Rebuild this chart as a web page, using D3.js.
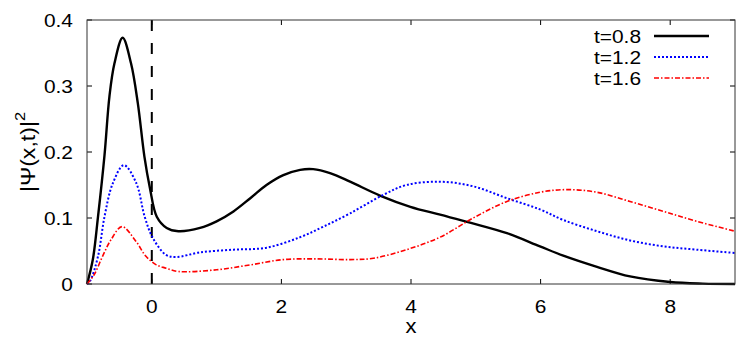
<!DOCTYPE html>
<html><head><meta charset="utf-8">
<script src="https://cdn.jsdelivr.net/npm/d3@7"></script>
<style>body{margin:0;background:#fff}svg{display:block}text{font-family:"Liberation Sans",Arial,sans-serif;fill:#000}</style>
</head><body><svg id="c" width="747" height="342"></svg>
<script>
const xTicks = [0, 2, 4, 6, 8];
const yTicks = [0, 0.1, 0.2, 0.3, 0.4];
const yTickLabels = ["0", "0.1", "0.2", "0.3", "0.4"];
const seriesNames = ["t=0.8", "t=1.2", "t=1.6"];

const xs08 = [-1, -0.91, -0.83, -0.73, -0.654, -0.577, -0.45, -0.32, -0.216, -0.114, -0.03, 0.077, 0.23, 0.41, 0.745, 1.0, 1.26, 1.52, 1.77, 2.03, 2.29, 2.49, 2.75, 3.06, 3.52, 3.99, 4.45, 4.91, 5.48, 5.99, 6.35, 6.87, 7.38, 8.0, 8.5, 9.0];
const ys08 = [0, 0.037, 0.102, 0.195, 0.284, 0.334, 0.373, 0.334, 0.274, 0.193, 0.146, 0.102, 0.085, 0.080, 0.085, 0.095, 0.110, 0.130, 0.150, 0.165, 0.173, 0.174, 0.168, 0.155, 0.134, 0.117, 0.105, 0.093, 0.077, 0.057, 0.043, 0.026, 0.0115, 0.003, 0.0006, 0];

const xs12 = [-1, -0.95, -0.83, -0.73, -0.60, -0.43, -0.24, -0.11, 0.015, 0.22, 0.38, 0.75, 1.26, 1.77, 2.29, 2.65, 3.06, 3.57, 3.93, 4.45, 4.96, 5.48, 5.99, 6.35, 6.87, 7.38, 7.9, 8.41, 9.0];
const ys12 = [0, 0.005, 0.042, 0.102, 0.153, 0.180, 0.153, 0.102, 0.070, 0.044, 0.041, 0.048, 0.052, 0.055, 0.071, 0.087, 0.107, 0.135, 0.150, 0.155, 0.148, 0.130, 0.113, 0.097, 0.080, 0.066, 0.057, 0.052, 0.047];

const xs16 = [-1, -0.89, -0.76, -0.63, -0.46, -0.24, -0.09, 0.07, 0.22, 0.41, 1.0, 1.52, 2.03, 2.55, 3.06, 3.42, 3.93, 4.45, 4.96, 5.48, 5.99, 6.4, 6.87, 7.38, 7.9, 8.41, 9.0];
const ys16 = [0, 0.014, 0.042, 0.067, 0.087, 0.064, 0.042, 0.029, 0.024, 0.019, 0.0215, 0.029, 0.037, 0.038, 0.037, 0.039, 0.052, 0.071, 0.100, 0.125, 0.139, 0.143, 0.139, 0.125, 0.110, 0.095, 0.080];

const W = 747, H = 342;
const m = {left: 87, right: 12, top: 20, bottom: 58};
const svg = d3.select("#c");
const x = d3.scaleLinear().domain([-1, 9]).range([m.left, W - m.right]);
const y = d3.scaleLinear().domain([0, 0.4]).range([H - m.bottom, m.top]);
const SX = 1.1;

const series = [
  {name: seriesNames[0], xs: xs08, ys: ys08, color: "#000", width: 2.4, dash: null},
  {name: seriesNames[1], xs: xs12, ys: ys12, color: "#0000ff", width: 2, dash: "2,2"},
  {name: seriesNames[2], xs: xs16, ys: ys16, color: "#ff0000", width: 1.6, dash: "5,2,1.5,2"}
];

function label(parent, tx, ty, anchor, size, str) {
  return parent.append("text").attr("transform", `translate(${tx},${ty}) scale(${SX},1)`)
    .attr("text-anchor", anchor).attr("font-size", size).text(str);
}

const x0 = x.range()[0], x1 = x.range()[1], y0 = y.range()[0], y1 = y.range()[1];
const tickLen = 5;
const g = svg.append("g");
xTicks.forEach(t => {
  g.append("line").attr("x1", x(t)).attr("x2", x(t)).attr("y1", y0).attr("y2", y0 - tickLen).attr("stroke", "#000");
  g.append("line").attr("x1", x(t)).attr("x2", x(t)).attr("y1", y1).attr("y2", y1 + tickLen).attr("stroke", "#000");
  label(g, x(t), y0 + 29, "middle", 19, t);
});
yTicks.forEach((t, i) => {
  g.append("line").attr("x1", x0).attr("x2", x0 + tickLen).attr("y1", y(t)).attr("y2", y(t)).attr("stroke", "#000");
  g.append("line").attr("x1", x1).attr("x2", x1 - tickLen).attr("y1", y(t)).attr("y2", y(t)).attr("stroke", "#000");
  label(g, x0 - 14, y(t) + 7, "end", 19, yTickLabels[i]);
});

svg.append("line").attr("x1", x(0)).attr("x2", x(0)).attr("y1", y1).attr("y2", y0)
  .attr("stroke", "#000").attr("stroke-width", 2).attr("stroke-dasharray", "11,12");

const line = d3.line().x(d => x(d[0])).y(d => y(Math.max(0, d[1]))).curve(d3.curveCatmullRom.alpha(0.5));
series.forEach(s => {
  const pts = s.xs.map((v, i) => [v, s.ys[i]]);
  svg.append("path").attr("d", line(pts)).attr("fill", "none").attr("stroke", s.color)
    .attr("stroke-width", s.width).attr("stroke-dasharray", s.dash);
});

svg.append("rect").attr("x", x0).attr("y", y1).attr("width", x1 - x0).attr("height", y0 - y1)
  .attr("fill", "none").attr("stroke", "#333").attr("stroke-width", 1);

series.forEach((s, i) => {
  const ly = 36 + i * 21;
  label(svg, 641, ly + 7, "end", 19, s.name);
  svg.append("line").attr("x1", 654).attr("x2", 709).attr("y1", ly).attr("y2", ly)
    .attr("stroke", s.color).attr("stroke-width", s.width).attr("stroke-dasharray", s.dash);
});

label(svg, (x0 + x1) / 2, 333, "middle", 20, "x");
const yl = svg.append("text").attr("transform", `translate(35,${(y0 + y1) / 2}) rotate(-90) scale(${SX},1)`)
  .attr("text-anchor", "middle").attr("font-size", 21);
yl.append("tspan").text("|Ψ(x,t)|");
yl.append("tspan").attr("dy", -10).attr("font-size", 15).text("2");
</script></body></html>
